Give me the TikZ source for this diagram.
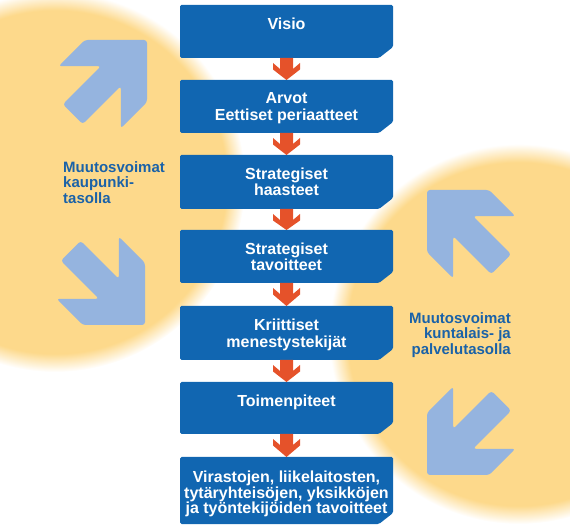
\documentclass[tikz,border=0pt]{standalone}
\usepackage{fontspec}
\setmainfont{Liberation Sans}
\usetikzlibrary{calc}
\definecolor{blobyellow}{HTML}{FDD98B}
\definecolor{boxblue}{HTML}{1166B1}
\definecolor{forceblue}{HTML}{95B4DF}
\definecolor{labelblue}{HTML}{1A62A8}
\definecolor{flowred}{HTML}{E5522A}
\pgfdeclareradialshading{blobshade}{\pgfpoint{0bp}{0bp}}{color(0bp)=(blobyellow); color(22.6bp)=(blobyellow); color(25bp)=(white); color(50bp)=(white)}
\newcommand\ForceArrow[3]{%
  \begin{scope}[shift={(#1,#2)},rotate=#3]
    \fill[force] (0,0) -- (44,-44) -- (44,-81) -- (14,-51) -- (14,-105) -- (-14,-105) -- (-14,-51) -- (-44,-81) -- (-44,-44) -- cycle;
  \end{scope}}
\newcommand\BoxFill[1]{%
  \fill[boxbg] (#1.north west) -- (#1.north east) -- ($(#1.south east)+(0,11)$) -- ($(#1.south east)+(-14,0)$) -- (#1.south west) -- cycle;}
\newcommand\FlowArr[2]{%
  \fill[flowarrow] ($(#1.south)+(-6.5,0)$) -- ($(#1.south)+(-6.5,-11)$) -- ($(#1.south)+(-13.5,-5)$) -- ($(#1.south)+(-13.5,-11.5)$) -- (#1.south |- #2.north) -- ($(#1.south)+(13.5,-11.5)$) -- ($(#1.south)+(13.5,-5)$) -- ($(#1.south)+(6.5,-11)$) -- ($(#1.south)+(6.5,0)$) -- cycle;}
\begin{document}
\begin{tikzpicture}[x=1pt,y=1pt,
  boxbg/.style={fill=boxblue, rounded corners=1.5pt},
  stagebox/.style={minimum width=213pt, inner sep=0pt, outer sep=0pt, draw=none},
  boxtext/.style={text=white, font=\fontsize{16}{16.5}\selectfont\bfseries, align=center, inner sep=0pt, anchor=north},
  sidetext/.style={text=labelblue, font=\fontsize{15}{15.5}\selectfont\bfseries, inner sep=0pt},
  flowarrow/.style={fill=flowred},
  force/.style={fill=forceblue, rounded corners=3pt}]
\useasboundingbox (0,0) rectangle (570,530);
\clip (0,0) rectangle (570,530);
% soft yellow blobs
\shade[shading=blobshade] (55,348) circle (190);
\shade[shading=blobshade] (519,196) circle (190);
% change-force arrows
\ForceArrow{147}{490}{-45}
\ForceArrow{145}{205}{-135}
\ForceArrow{427}{340}{45}
\ForceArrow{427}{55}{135}
% side labels
\node[sidetext, align=left, anchor=north west] (lt) at (63,369) {Muutosvoimat\\kaupunki-\\tasolla};
\node[sidetext, align=right, anchor=north east] (rt) at (511,218) {Muutosvoimat\\kuntalais- ja\\palvelutasolla};
% stage boxes
\node[stagebox, minimum height=53pt] (b1) at (286.5,498.5) {};
\node[stagebox, minimum height=53pt] (b2) at (286.5,423.5) {};
\node[stagebox, minimum height=54pt] (b3) at (286.5,348) {};
\node[stagebox, minimum height=53pt] (b4) at (286.5,273.5) {};
\node[stagebox, minimum height=54pt] (b5) at (286.5,197) {};
\node[stagebox, minimum height=52pt] (b6) at (286.5,122) {};
\node[stagebox, minimum height=67pt] (b7) at (286.5,39.5) {};
\BoxFill{b1}\BoxFill{b2}\BoxFill{b3}\BoxFill{b4}\BoxFill{b5}\BoxFill{b6}\BoxFill{b7}
\node[boxtext] (t1) at ($(b1.north)+(0,-12.5)$) {Visio};
\node[boxtext] (t2) at ($(b2.north)+(0,-12.5)$) {Arvot\\Eettiset periaatteet};
\node[boxtext] (t3) at ($(b3.north)+(0,-12.5)$) {Strategiset\\haasteet};
\node[boxtext] (t4) at ($(b4.north)+(0,-12.5)$) {Strategiset\\tavoitteet};
\node[boxtext] (t5) at ($(b5.north)+(0,-13)$) {Kriittiset\\menestystekijät};
\node[boxtext] (t6) at ($(b6.north)+(0,-12.5)$) {Toimenpiteet};
\node[boxtext, font=\fontsize{16}{15.3}\selectfont\bfseries] (t7) at ($(b7.north)+(0,-14)$) {Virastojen, liikelaitosten,\\tytäryhteisöjen, yksikköjen\\ja työntekijöiden tavoitteet};
% flow arrows
\FlowArr{b1}{b2}
\FlowArr{b2}{b3}
\FlowArr{b3}{b4}
\FlowArr{b4}{b5}
\FlowArr{b5}{b6}
\FlowArr{b6}{b7}
\end{tikzpicture}
\end{document}
